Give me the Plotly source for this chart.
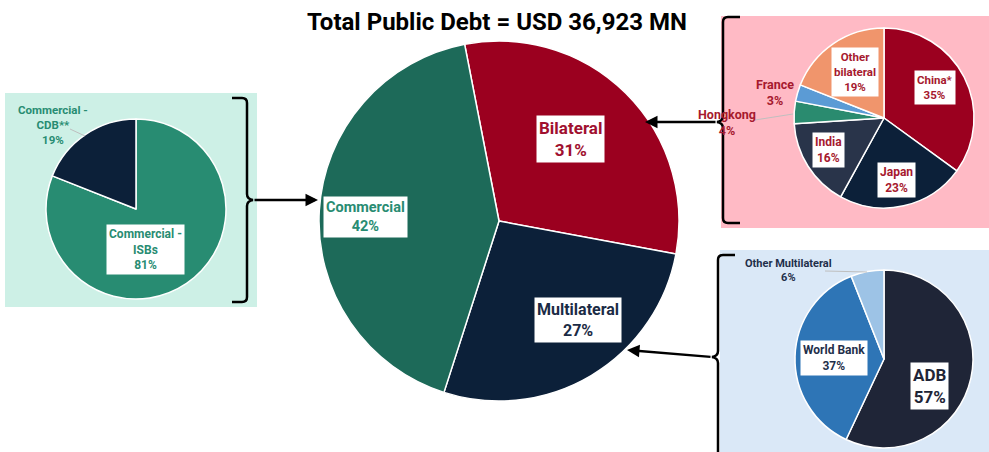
import plotly.graph_objects as go

W, H = 989, 452

# ---------------- data ----------------
main_labels = ["Bilateral", "Multilateral", "Commercial"]
main_values = [31, 27, 42]

comm_labels = ["Commercial - ISBs", "Commercial - CDB**"]
comm_values = [81, 19]

bil_labels = ["China*", "Japan", "India", "Hongkong", "France", "Other bilateral"]
bil_values = [35, 23, 16, 4, 3, 19]

mul_labels = ["ADB", "World Bank", "Other Multilateral"]
mul_values = [57, 37, 6]

title_text = "Total Public Debt = USD 36,923 MN"

# ---------------- styles ----------------
RED = "#9B001F"
NAVY = "#0C2039"
GREEN_D = "#1D6A59"
GREEN = "#288C72"
main_colors = [RED, NAVY, GREEN_D]
comm_colors = [GREEN, NAVY]
bil_colors = [RED, NAVY, "#29344A", "#2A8B6F", "#5B9BD5", "#F0956C"]
mul_colors = ["#1F2537", "#2E75B6", "#9DC3E6"]
FONT = "Roboto"


def dom(cx, cy, r):
    return dict(x=[(cx - r) / W, (cx + r) / W], y=[(H - cy - r) / H, (H - cy + r) / H])


fig = go.Figure()

# invisible pixel axes for shapes/annotations
fig.add_trace(go.Scatter(x=[0, W], y=[0, H], mode="markers", marker=dict(opacity=0),
                         hoverinfo="skip", showlegend=False))

wline = dict(color="white", width=1.5)
fig.add_trace(go.Pie(labels=main_labels, values=main_values, domain=dom(499, 221, 180),
                     rotation=-11, marker=dict(colors=main_colors, line=wline),
                     sort=False, direction="clockwise", textinfo="none", showlegend=False))
fig.add_trace(go.Pie(labels=comm_labels, values=comm_values, domain=dom(136, 209, 90),
                     rotation=0, marker=dict(colors=comm_colors, line=wline),
                     sort=False, direction="clockwise", textinfo="none", showlegend=False))
fig.add_trace(go.Pie(labels=bil_labels, values=bil_values, domain=dom(884, 118, 90),
                     rotation=0, marker=dict(colors=bil_colors, line=wline),
                     sort=False, direction="clockwise", textinfo="none", showlegend=False))
fig.add_trace(go.Pie(labels=mul_labels, values=mul_values, domain=dom(884, 359, 89),
                     rotation=0, marker=dict(colors=mul_colors, line=wline),
                     sort=False, direction="clockwise", textinfo="none", showlegend=False))

shapes = []
# background panels
shapes.append(dict(type="rect", x0=5, x1=257, y0=93, y1=307, fillcolor="#CDF0E6", line_width=0, layer="below"))
shapes.append(dict(type="rect", x0=721, x1=W, y0=16, y1=228, fillcolor="#FFBAC5", line_width=0, layer="below"))
shapes.append(dict(type="rect", x0=720, x1=W, y0=250, y1=H, fillcolor="#DAE8F7", line_width=0, layer="below"))

# braces
blk = dict(color="black", width=2.5)
shapes.append(dict(type="path", line=blk, layer="above",
                   path="M 232 98 L 242 98 Q 247 98 247 103 L 247 194 Q 247 199 253 200 "
                        "Q 247 201 247 206 L 247 297 Q 247 302 242 302 L 232 302"))
shapes.append(dict(type="path", line=blk, layer="above",
                   path="M 740 17 L 728 17 Q 723 17 723 22 L 723 116 Q 723 121 717 122 "
                        "Q 723 123 723 128 L 723 218 Q 723 223 728 223 L 740 223"))
shapes.append(dict(type="path", line=blk, layer="above",
                   path="M 735 255 L 723 255 Q 718 255 718 260 L 718 351 Q 718 356 712 357 "
                        "Q 718 358 718 363 L 718 460"))

# leader lines
gl = dict(color="#BFBFBF", width=1)
shapes.append(dict(type="line", x0=70, y0=129, x1=85, y1=136, line=gl))
shapes.append(dict(type="line", x0=755, y0=120, x1=793, y1=114, line=gl))
shapes.append(dict(type="line", x0=825, y0=271, x1=867, y1=272, line=gl))

ann = []
ann.append(dict(x=497, y=22, text="<b>" + title_text + "</b>", showarrow=False,
                font=dict(family=FONT, size=24, color="black")))

# arrows
for (tx, ty, sx, sy) in [(318, 200, 253, 200), (645, 122, 717, 122), (627, 350, 712, 357)]:
    ann.append(dict(x=tx, y=ty, ax=sx, ay=sy, xref="x", yref="y", axref="x", ayref="y",
                    text="", showarrow=True, arrowhead=2, arrowsize=1, arrowwidth=2.5,
                    arrowcolor="black", standoff=0))


def lab(x, y, text, color, size, box=True):
    d = dict(x=x, y=y, text="<b>" + text + "</b>", showarrow=False,
             font=dict(family=FONT, size=size, color=color), align="center")
    if box:
        d.update(bgcolor="white", borderpad=2)
    return d


def pct(v):
    return f"{v}%"


# main labels
ann.append(lab(570, 139, main_labels[0] + "<br>" + pct(main_values[0]), "#A0102F", 17))
ann.append(lab(578, 320, main_labels[1] + "<br>" + pct(main_values[1]), "#1B2B45", 16))
ann.append(lab(365, 217, main_labels[2] + "<br>" + pct(main_values[2]), GREEN, 14.5))

# commercial
ann.append(lab(145, 249, "Commercial -<br>ISBs<br>" + pct(comm_values[0]), GREEN, 12))
ann.append(lab(53, 125, "Commercial -<br>CDB**<br>" + pct(comm_values[1]), GREEN, 11.5, box=False))

# bilateral
BR = "#A6192E"
ann.append(lab(935, 87, bil_labels[0] + "<br>" + pct(bil_values[0]), BR, 11.5))
ann.append(lab(896, 180, bil_labels[1] + "<br>" + pct(bil_values[1]), BR, 12))
ann.append(lab(828, 150, bil_labels[2] + "<br>" + pct(bil_values[2]), BR, 12))
ann.append(lab(727, 122, bil_labels[3] + "<br>" + pct(bil_values[3]), BR, 12.5, box=False))
ann.append(lab(775, 92, bil_labels[4] + "<br>" + pct(bil_values[4]), BR, 12.5, box=False))
ann.append(lab(855, 72, "Other<br>bilateral<br>" + pct(bil_values[5]), BR, 11.5))

# multilateral
MN = "#1F2F4A"
ann.append(lab(929, 386, mul_labels[0] + "<br>" + pct(mul_values[0]), "#1F2537", 17))
ann.append(lab(834, 358, mul_labels[1] + "<br>" + pct(mul_values[1]), MN, 12))
ann.append(lab(788, 270, mul_labels[2] + "<br>" + pct(mul_values[2]), MN, 11, box=False))

fig.update_layout(
    width=W, height=H, margin=dict(l=0, r=0, t=0, b=0),
    paper_bgcolor="white", plot_bgcolor="rgba(0,0,0,0)",
    xaxis=dict(range=[0, W], visible=False, domain=[0, 1], fixedrange=True),
    yaxis=dict(range=[H, 0], visible=False, domain=[0, 1], fixedrange=True),
    shapes=shapes, annotations=ann, showlegend=False,
)

fig.write_html("out.html", config={"displayModeBar": False},
               post_script="document.body.style.margin='0';document.body.style.overflow='hidden';")
